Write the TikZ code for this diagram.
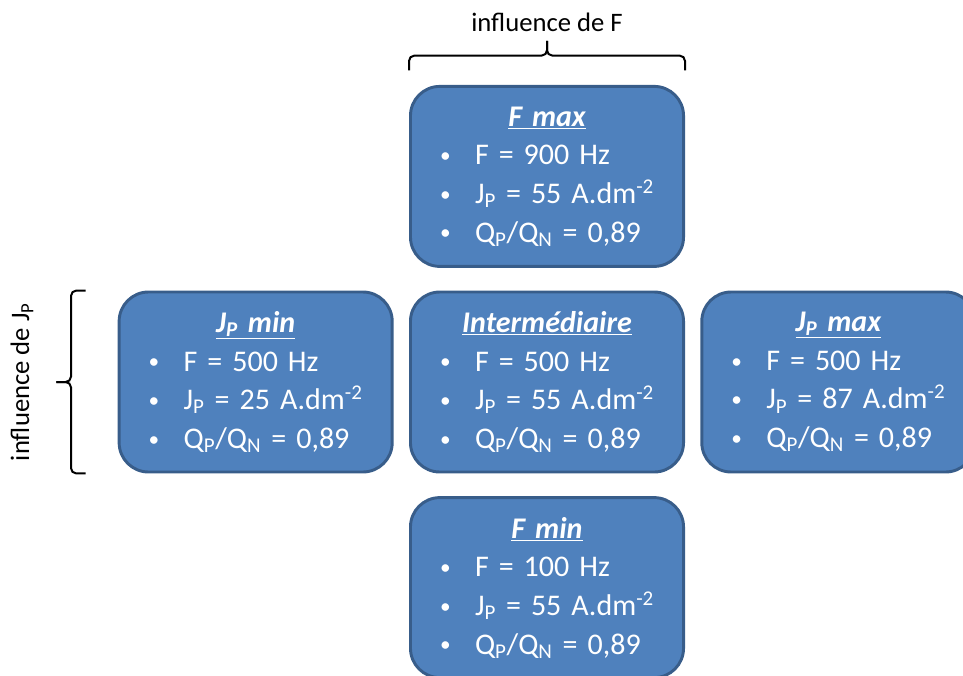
\documentclass[tikz,border=0pt]{standalone}
\usepackage{fontspec}
\setmainfont{Carlito}
\usetikzlibrary{positioning}

\definecolor{panelfill}{HTML}{4F81BD}
\definecolor{paneledge}{HTML}{385D8A}

\newcommand{\paneltitle}[1]{{\centering\bfseries\itshape\underline{#1}\par}}
\newcommand{\pdot}{\raisebox{1.6pt}{\fontsize{16}{16}\selectfont\textbullet}}
\newcommand{\pitem}[1]{\hspace*{1.5pt}\makebox[26.25pt][l]{\pdot}#1\par}
\newcommand{\Jp}{J\textsubscript{P}}
\newcommand{\QpQn}{Q\textsubscript{P}/Q\textsubscript{N} = 0,89}

\begin{document}
\begin{tikzpicture}[x=0.75pt, y=-0.75pt,
    panel/.style={draw=paneledge, line width=2.2pt, fill=panelfill,
                  rounded corners=22pt, minimum width=204.8pt, minimum height=135pt,
                  text width=163.5pt, align=left, inner sep=0pt, text=white,
                  font=\fontsize{22.5}{29}\selectfont},
    sidetext/.style={font=\fontsize{20}{24}\selectfont, inner sep=0pt},
    bracket/.style={line width=1.5pt, rounded corners=4pt},
    node distance=17pt and 11.5pt]
\clip (0,0) rectangle (963,675);

\node[panel] (inter) at (547,382) {\paneltitle{Intermédiaire}
  \pitem{F = 500 Hz}\pitem{\Jp{} = 55 A.dm\textsuperscript{-2}}\pitem{\QpQn}};
\node[panel, above=of inter] (fmax) {\paneltitle{F max}
  \pitem{F = 900 Hz}\pitem{\Jp{} = 55 A.dm\textsuperscript{-2}}\pitem{\QpQn}};
\node[panel, below=of inter] (fmin) {\paneltitle{F min}
  \pitem{F = 100 Hz}\pitem{\Jp{} = 55 A.dm\textsuperscript{-2}}\pitem{\QpQn}};
\node[panel, left=of inter] (jpmin) {\paneltitle{\Jp{} min}
  \pitem{F = 500 Hz}\pitem{\Jp{} = 25 A.dm\textsuperscript{-2}}\pitem{\QpQn}};
\node[panel, right=of inter] (jpmax) {\paneltitle{\Jp{} max}
  \pitem{F = 500 Hz}\pitem{\Jp{} = 87 A.dm\textsuperscript{-2}}\pitem{\QpQn}};

% brace over the F column
\coordinate (fL) at ([yshift=11pt]fmax.north west);
\coordinate (fR) at ([yshift=11pt]fmax.north east);
\coordinate (fTip) at ([yshift=33pt]fmax.north);
\draw[bracket] (fL) |- ([yshift=-11pt]fTip) -- (fTip);
\draw[bracket] (fR) |- ([yshift=-11pt]fTip) -- (fTip);
\node[sidetext] (infF) at (547,22) {influence de F};

% brace beside the Jp row
\coordinate (jT) at ([xshift=-24pt]jpmin.north west);
\coordinate (jB) at ([xshift=-24pt]jpmin.south west);
\coordinate (jTip) at ([xshift=-46pt]jpmin.west);
\draw[bracket] (jT) -| ([xshift=11pt]jTip) -- (jTip);
\draw[bracket] (jB) -| ([xshift=11pt]jTip) -- (jTip);
\node[sidetext, rotate=90] (infJ) at (22,382) {influence de \Jp};
\end{tikzpicture}
\end{document}
